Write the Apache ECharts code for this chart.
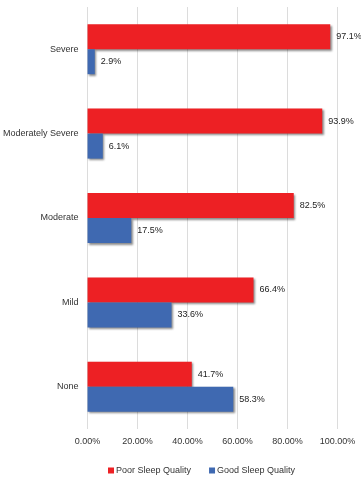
<!DOCTYPE html>
<html>
<head>
<meta charset="utf-8">
<script src="https://cdn.jsdelivr.net/npm/echarts@6/dist/echarts.min.js"></script>
<style>html,body{margin:0;padding:0;background:#fff;}#c{width:361px;height:489px;}</style>
</head>
<body>
<div id="c"></div>
<script>
var categories = ['None', 'Mild', 'Moderate', 'Moderately Severe', 'Severe'];
var poorSleep = [41.7, 66.4, 82.5, 93.9, 97.1];
var goodSleep = [58.3, 33.6, 17.5, 6.1, 2.9];
var seriesNames = ['Poor Sleep Quality', 'Good Sleep Quality'];
var xTicks = [0, 20, 40, 60, 80, 100];

var font = '"Liberation Sans", Arial, sans-serif';
var chart = echarts.init(document.getElementById('c'), null, {renderer: 'canvas'});
var shadow = {shadowColor: 'rgba(0,0,0,0.45)', shadowBlur: 2, shadowOffsetX: 1.5, shadowOffsetY: 1.5};
chart.setOption({
  animation: false,
  backgroundColor: '#fff',
  grid: {left: 86, right: 23.5, top: 7, bottom: 60, containLabel: false},
  xAxis: {
    type: 'value', min: xTicks[0], max: xTicks[xTicks.length - 1], interval: 20,
    axisLine: {show: false}, axisTick: {show: false},
    splitLine: {show: true, lineStyle: {color: '#dcdcdc', width: 1}},
    axisLabel: {formatter: function (v) { return v.toFixed(2) + '%'; }, color: '#333', fontSize: 9, fontFamily: font, margin: 8}
  },
  yAxis: {
    type: 'category', data: categories,
    axisLine: {show: false}, axisTick: {show: false},
    axisLabel: {color: '#333', fontSize: 9, fontFamily: font, margin: 9}
  },
  legend: {
    bottom: 9, left: 103, itemWidth: 6, itemHeight: 6, itemGap: 18, icon: 'rect',
    textStyle: {color: '#333', fontSize: 9, fontFamily: font, padding: [0, 0, 0, -3]},
    data: seriesNames
  },
  series: [
    {
      name: seriesNames[0], type: 'bar', data: poorSleep, barWidth: 25, barGap: '0%',
      itemStyle: Object.assign({color: '#ED2024'}, shadow),
      label: {show: true, position: 'right', distance: 6, formatter: '{c}%', color: '#222', fontSize: 9, fontFamily: font}
    },
    {
      name: seriesNames[1], type: 'bar', data: goodSleep, barWidth: 25, barGap: '0%',
      itemStyle: Object.assign({color: '#3F69B1'}, shadow),
      label: {show: true, position: 'right', distance: 6, formatter: '{c}%', color: '#222', fontSize: 9, fontFamily: font}
    }
  ]
});
</script>
</body>
</html>
